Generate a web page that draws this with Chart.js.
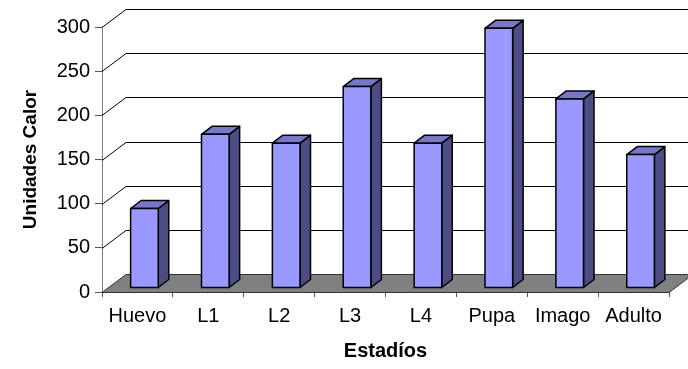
<!DOCTYPE html>
<html>
<head>
<meta charset="utf-8">
<script src="https://cdn.jsdelivr.net/npm/chart.js@4/dist/chart.umd.min.js"></script>
<style>
  html, body { margin: 0; padding: 0; background: #ffffff; }
  #wrap { width: 688px; height: 369px; position: relative; }
</style>
</head>
<body>
<div id="wrap"><canvas id="c" width="688" height="369"></canvas></div>
<script>
// ---- data ----
const categories = ["Huevo", "L1", "L2", "L3", "L4", "Pupa", "Imago", "Adulto"];
const unidadesCalor = [90, 174, 164, 228, 164, 294, 214, 151];
const yTickMin = 0;
const yTickMax = 300;
const yTickStep = 50;
const yTitle = "Unidades Calor";
const xTitle = "Estadíos";

// ---- 3D styling constants ----
const WALL_DX = 24, WALL_DY = 18;      // depth of the back wall
const BAR_DX = 7, BAR_DY = 4;          // position of the bar front face inside the depth
const SIDE_DX = 10.5, SIDE_DY = 8;     // bar depth
const FRONT = '#9999ff', TOP = '#7777cc', SIDE = '#4d4d85';

const threeD = {
  id: 'threeD',
  beforeDatasetsDraw(chart) {
    const ctx = chart.ctx;
    const ys = chart.scales.y, xs = chart.scales.x;
    const L = chart.chartArea.left, R = chart.chartArea.right;
    const y0 = ys.getPixelForValue(0);
    ctx.save();
    // back wall grid lines + diagonals
    ctx.strokeStyle = '#000000';
    ctx.lineWidth = 1;
    ys.ticks.forEach(t => {
      if (t.value === 0) return;
      const y = Math.round(ys.getPixelForValue(t.value)) + 0.5;
      ctx.beginPath();
      ctx.moveTo(L, y);
      ctx.lineTo(L + WALL_DX, y - WALL_DY);
      ctx.lineTo(chart.width, y - WALL_DY);
      ctx.stroke();
    });
    // floor
    const fy = Math.round(y0) + 0.5;
    ctx.beginPath();
    ctx.moveTo(L, fy);
    ctx.lineTo(R, fy);
    ctx.lineTo(R + WALL_DX, fy - WALL_DY);
    ctx.lineTo(L + WALL_DX, fy - WALL_DY);
    ctx.closePath();
    ctx.fillStyle = '#808080';
    ctx.fill();
    ctx.strokeStyle = '#333333';
    ctx.stroke();
    ctx.restore();
  },
  afterDatasetsDraw(chart) {
    const ctx = chart.ctx;
    const meta = chart.getDatasetMeta(0);
    ctx.save();
    ctx.lineWidth = 1.5;
    ctx.strokeStyle = '#000000';
    ctx.lineJoin = 'round';
    meta.data.forEach(el => {
      const p = el.getProps(['x', 'y', 'base', 'width'], true);
      const x0 = p.x - p.width / 2 + BAR_DX, x1 = p.x + p.width / 2 + BAR_DX;
      const top = p.y - BAR_DY, bot = p.base - BAR_DY;
      // side
      ctx.beginPath();
      ctx.moveTo(x1, top); ctx.lineTo(x1 + SIDE_DX, top - SIDE_DY);
      ctx.lineTo(x1 + SIDE_DX, bot - SIDE_DY); ctx.lineTo(x1, bot); ctx.closePath();
      ctx.fillStyle = SIDE; ctx.fill(); ctx.stroke();
      // top
      ctx.beginPath();
      ctx.moveTo(x0, top); ctx.lineTo(x0 + SIDE_DX, top - SIDE_DY);
      ctx.lineTo(x1 + SIDE_DX, top - SIDE_DY); ctx.lineTo(x1, top); ctx.closePath();
      ctx.fillStyle = TOP; ctx.fill(); ctx.stroke();
      // front
      ctx.beginPath();
      ctx.rect(x0, top, x1 - x0, bot - top);
      ctx.fillStyle = FRONT; ctx.fill(); ctx.stroke();
    });
    ctx.restore();
  }
};

new Chart(document.getElementById('c'), {
  type: 'bar',
  data: {
    labels: categories,
    datasets: [{
      data: unidadesCalor,
      backgroundColor: 'rgba(0,0,0,0)',
      borderWidth: 0,
      categoryPercentage: 1,
      barPercentage: 0.39
    }]
  },
  options: {
    responsive: false,
    animation: false,
    events: [],
    layout: { padding: { left: 0, right: 19, top: 27, bottom: 0 } },
    plugins: { legend: { display: false }, tooltip: { enabled: false } },
    scales: {
      x: {
        afterFit: s => { s.height = 77; },
        grid: { drawOnChartArea: false, tickLength: 5, color: '#555555', offset: true },
        border: { display: true, color: '#555555' },
        ticks: { color: '#000000', font: { family: 'Liberation Sans', size: 20 }, padding: 7, maxRotation: 0, autoSkip: false },
        title: { display: true, text: xTitle, color: '#000000', font: { family: 'Liberation Sans', size: 20, weight: 'bold' }, padding: { top: 0, bottom: 6 } }
      },
      y: {
        min: yTickMin, max: yTickMax,
        afterFit: s => { s.width = 102; },
        grid: { drawOnChartArea: false, tickLength: 7, color: '#555555' },
        border: { display: true, color: '#808080' },
        ticks: { stepSize: yTickStep, color: '#000000', font: { family: 'Liberation Sans', size: 20 }, padding: 5 },
        title: { display: true, text: yTitle, color: '#000000', font: { family: 'Liberation Sans', size: 19, weight: 'bold' }, padding: { top: 19, bottom: 0 } }
      }
    }
  },
  plugins: [threeD]
});
</script>
</body>
</html>
